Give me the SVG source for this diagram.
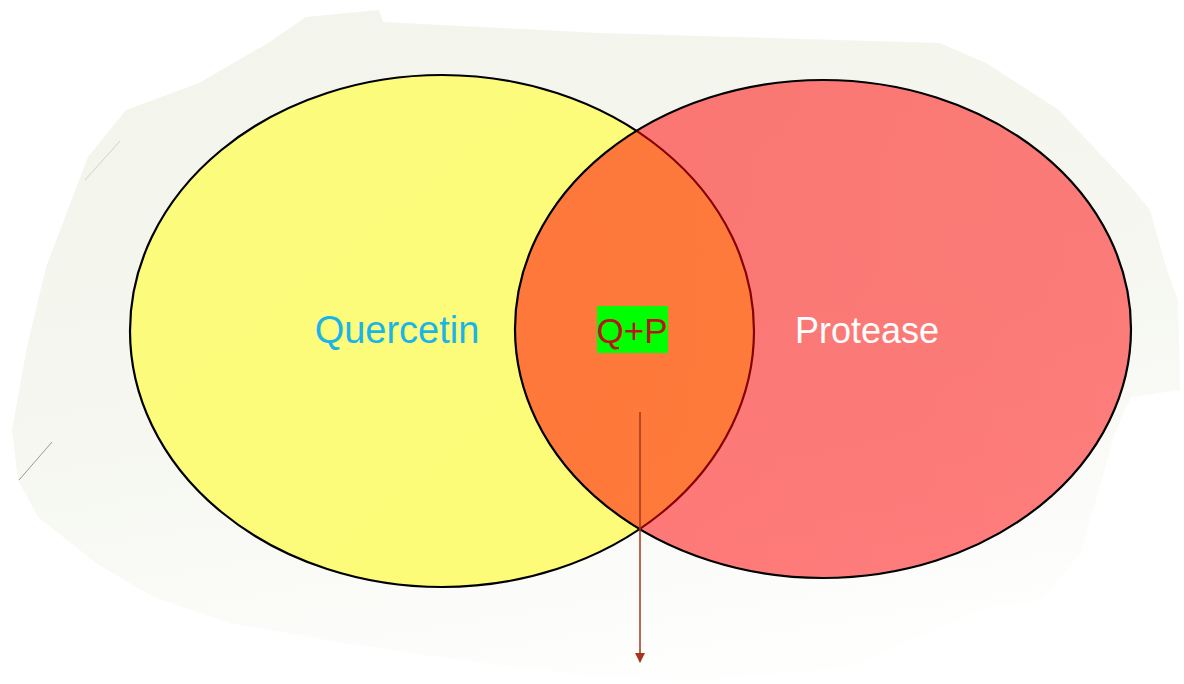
<svg xmlns="http://www.w3.org/2000/svg" width="1184" height="684" viewBox="0 0 1184 684">
<defs>
<linearGradient id="bg" x1="0.2" y1="0" x2="0.5" y2="1">
<stop offset="0" stop-color="#F3F5EC"/>
<stop offset="0.55" stop-color="#F5F7F0"/>
<stop offset="1" stop-color="#FEFEFD"/>
</linearGradient>
<linearGradient id="yel" x1="0" y1="0" x2="1" y2="1">
<stop offset="0" stop-color="#FCFC7E"/>
<stop offset="1" stop-color="#FDFB76"/>
</linearGradient>
<linearGradient id="red" x1="0" y1="0" x2="1" y2="0">
<stop offset="0" stop-color="#FF0000"/>
<stop offset="1" stop-color="#FF0A0A"/>
</linearGradient>
<marker id="arr" viewBox="0 0 10 10" refX="9" refY="5" markerWidth="10" markerHeight="10" markerUnits="userSpaceOnUse" orient="auto">
<path d="M0,0 L10,5 L0,10 Z" fill="#A8341C"/>
</marker>
<style>
.lbl{font-family:"Liberation Sans",Arial,sans-serif;text-anchor:middle}
.circ{stroke:#000;stroke-width:2.2}
</style>
</defs>
<g id="background">
<path d="M27,347 L46,267 L88,157 L126,110 L199,83 L268,43 L306,17 L379,10 L383,22 L600,33 L940,43 L986,63 L1059,110 L1131,187 L1150,210 L1166,267 L1178,300 L1180,390 L1131,397 L1115,433 L1096,500 L1081,553 L1042,600 L988,607 L927,633 L850,667 L700,680 L600,677 L459,660 L344,643 L230,623 L153,597 L96,563 L38,517 L18,480 L12,430 Z" fill="url(#bg)"/>
<line x1="85" y1="180" x2="120" y2="141" stroke="#D2D2CA" stroke-width="1"/>
<line x1="19" y1="480" x2="52" y2="442" stroke="#9A9A90" stroke-width="1"/>
</g>
<g id="quercetin">
<ellipse class="circ" cx="442" cy="331" rx="312" ry="256" fill="url(#yel)"/>
<text class="lbl" x="397" y="343" font-size="38" fill="#1BB4E8">Quercetin</text>
</g>
<g id="protease">
<ellipse class="circ" cx="823" cy="329" rx="308" ry="249" fill="url(#red)" fill-opacity="0.52"/>
<text class="lbl" x="867" y="343" font-size="36" fill="#FFFFFF">Protease</text>
</g>
<g id="qp">
<rect x="597" y="306" width="71" height="47" fill="#00FF00"/>
<text class="lbl" x="632" y="343" font-size="35" fill="#B8141B">Q+P</text>
</g>
<g id="connectors">
<line x1="640" y1="412" x2="640" y2="662" stroke="#A8341C" stroke-width="1.5" marker-end="url(#arr)"/>
</g>
</svg>
